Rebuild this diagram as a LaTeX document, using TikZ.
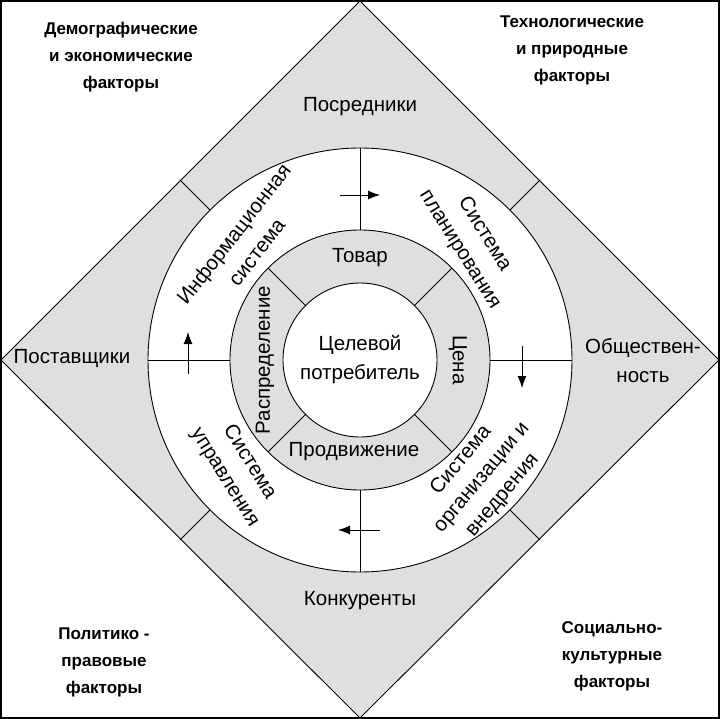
\documentclass[tikz,border=0pt]{standalone}
\usepackage{fontspec}
\setmainfont{Liberation Sans}
\usetikzlibrary{arrows.meta,calc}
\begin{document}
\begin{tikzpicture}[x=1pt,y=-1pt,
  ln/.style={line width=0.9pt,black},
  lab/.style={font=\fontsize{20.5}{29}\selectfont,align=center,inner sep=0},
  big/.style={font=\fontsize{17}{27}\selectfont\bfseries,align=center,inner sep=0},
  ar/.style={line width=0.9pt,-{Latex[length=12pt,width=9pt]}}]
\useasboundingbox (0,0) rectangle (720,719);
\fill[white] (0,0) rectangle (720,719);
\coordinate (c) at (360,360);
\filldraw[ln,fill=gray!25] (360,1) -- (719,360) -- (360,718) -- (1,360) -- cycle;
\draw[line width=1.5pt] (1,1) rectangle (719,718);
\filldraw[ln,fill=white] (c) circle (212);
\filldraw[ln,fill=gray!25] (c) circle (130);
\filldraw[ln,fill=white] (c) circle (77);
% dividers
\foreach \a in {45,135,225,315}{
  \draw[ln] ($(c)+(\a:212)$) -- ($(c)+(\a:255)$);
  \draw[ln] ($(c)+(\a:77)$) -- ($(c)+(\a:130)$);}
\foreach \a in {0,90,180,270}{
  \draw[ln] ($(c)+(\a:130)$) -- ($(c)+(\a:212)$);}
\coordinate (t1) at (340,195); \coordinate (t2) at (380,195);
\draw[ar] (t1) -- (t2);
\coordinate (l1) at (188,374); \coordinate (l2) at (188,332);
\draw[ar] (l1) -- (l2);
\coordinate (r1) at (522,346); \coordinate (r2) at (522,388);
\draw[ar] (r1) -- (r2);
\coordinate (b1) at (380,530); \coordinate (b2) at (338,530);
\draw[ar] (b1) -- (b2);
% labels
\node[lab] (cen) at (360,360) {Целевой\\потребитель};
\node[lab] (tov) at (360,258) {Товар};
\node[lab] (pro) at (354,452) {Продвижение};
\node[lab,rotate=90] (ras) at (265,360) {Распределение};
\node[lab,rotate=-90] (cena) at (458,360) {Цена};
\node[lab,rotate=52] (inf) at (245,243) {Информационная\\система};
\node[lab,rotate=-58] (pl) at (472,242) {Система\\планирования};
\node[lab,rotate=-58] (up) at (237,470) {Система\\управления};
\node[lab,rotate=50,font=\fontsize{20.5}{27}\selectfont] (org) at (482,478) {Система\\организации и\\внедрения};
\node[lab] (pos) at (360,107) {Посредники};
\node[lab] (post) at (72,358) {Поставщики};
\node[lab] (obs) at (643,361) {Обществен-\\ность};
\node[lab] (kon) at (360,601) {Конкуренты};
\node[big] (dem) at (121,57) {Демографические\\и экономические\\факторы};
\node[big] (teh) at (572,50) {Технологические\\и природные\\факторы};
\node[big] (pol) at (104,662) {Политико -\\правовые\\факторы};
\node[big] (soc) at (612,656) {Социально-\\культурные\\факторы};
\end{tikzpicture}
\end{document}
